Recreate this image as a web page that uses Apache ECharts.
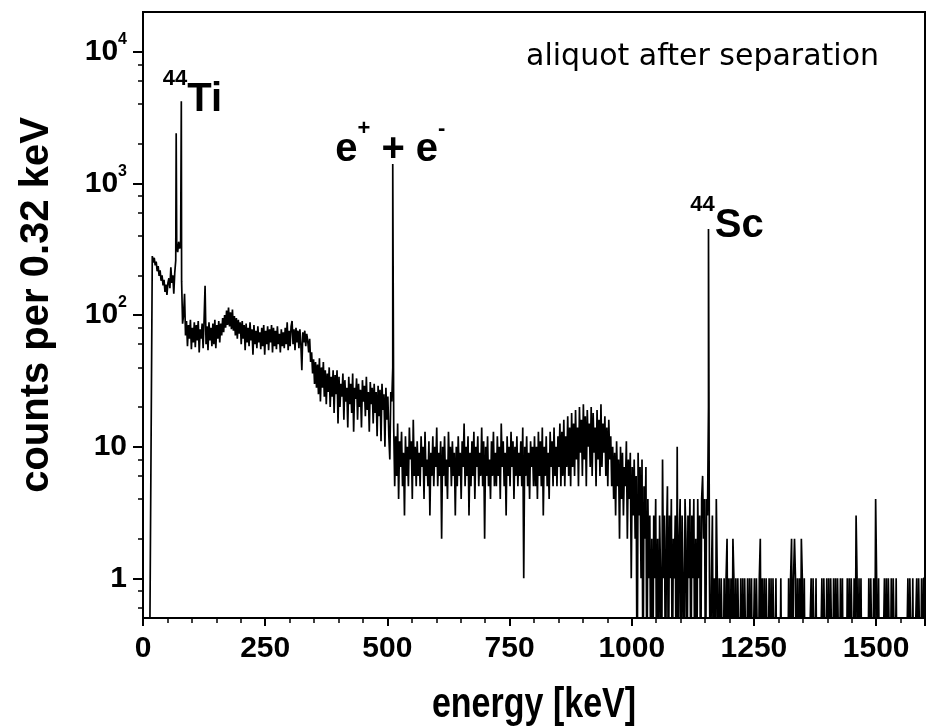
<!DOCTYPE html>
<html>
<head>
<meta charset="utf-8">
<script src="https://cdn.jsdelivr.net/npm/echarts@6/dist/echarts.min.js"></script>
<style>
html, body { margin: 0; padding: 0; background: #fff; }
#chart { width: 935px; height: 726px; }
</style>
</head>
<body>
<div id="chart"></div>
<script>
// spectrum, one value every 2 keV starting at 1 keV
const startKeV = 1
const stepKeV = 2
const counts = [
    0, 0, 0, 0, 0, 0, 0, 0, 0, 280, 250, 272, 238, 255, 215, 235, 198, 218, 182, 200, 168, 185, 150, 170, 142, 175, 190, 160, 230, 175, 200, 145, 210, 260, 330, 300, 360, 320, 350, 180,
    86, 100, 145, 70, 90, 58, 84, 66, 92, 55, 80, 62, 88, 57, 84, 64, 90, 52, 78, 66, 86, 56, 92, 167, 60, 82, 54, 88, 64, 80, 58, 86, 60, 92, 56, 84, 66, 90, 62, 86,
    70, 95, 74, 100, 80, 108, 84, 114, 82, 105, 78, 110, 76, 98, 70, 95, 66, 92, 72, 88, 60, 90, 66, 84, 54, 86, 62, 80, 58, 88, 64, 78, 50, 84, 60, 76, 56, 82, 62, 74,
    55, 80, 58, 84, 50, 76, 60, 82, 54, 78, 62, 84, 52, 80, 58, 76, 55, 82, 60, 72, 52, 78, 58, 74, 56, 80, 60, 88, 54, 76, 58, 82, 90, 60, 78, 54, 80, 62, 76, 56,
    78, 60, 38, 74, 62, 76, 58, 72, 64, 52, 66, 44, 52, 36, 46, 30, 44, 28, 42, 25, 47, 22, 40, 28, 44, 24, 38, 21, 36, 26, 40, 20, 34, 24, 38, 18, 35, 25, 38, 15,
    34, 20, 30, 24, 36, 16, 32, 22, 28, 14, 34, 21, 30, 18, 36, 13, 28, 23, 33, 16, 30, 20, 27, 14, 32, 22, 29, 17, 34, 19, 26, 13, 31, 21, 28, 15, 30, 18, 26, 12,
    29, 17, 27, 11, 30, 19, 25, 10, 28, 16, 24, 12, 8, 26, 22, 40, 14, 5, 12, 6, 15, 4, 11, 7, 13, 5, 9, 3, 12, 6, 10, 5, 14, 8, 11, 4, 16, 6, 10, 5,
    11, 6, 9, 5, 12, 7, 10, 4, 13, 6, 8, 5, 11, 3, 9, 6, 12, 5, 10, 7, 14, 5, 9, 6, 11, 2, 10, 6, 12, 5, 8, 4, 13, 7, 10, 5, 11, 6, 9, 3,
    10, 5, 12, 6, 9, 4, 11, 7, 15, 5, 10, 6, 12, 3, 9, 5, 11, 6, 13, 4, 10, 7, 12, 5, 9, 6, 14, 5, 11, 2, 10, 6, 12, 5, 8, 4, 11, 6, 13, 5,
    9, 5, 12, 6, 10, 4, 15, 7, 11, 5, 9, 3, 12, 6, 10, 5, 13, 7, 11, 4, 10, 6, 12, 5, 9, 6, 11, 5, 14, 1, 10, 6, 12, 5, 9, 4, 11, 7, 10, 5,
    12, 5, 10, 4, 13, 6, 11, 5, 14, 3, 10, 6, 12, 5, 9, 4, 13, 7, 11, 5, 14, 6, 10, 5, 12, 7, 15, 5, 13, 6, 16, 5, 12, 7, 17, 6, 14, 5, 18, 7,
    15, 6, 19, 8, 14, 5, 20, 9, 16, 6, 21, 8, 17, 5, 19, 10, 15, 7, 20, 6, 18, 9, 14, 5, 19, 8, 16, 6, 21, 7, 15, 9, 17, 6, 14, 5, 16, 8, 12, 5,
    10, 4, 9, 3, 11, 5, 8, 2, 10, 4, 9, 3, 7, 5, 11, 2, 8, 4, 9, 1, 7, 3, 8, 2, 6, 0, 9, 3, 7, 1, 8, 0, 5, 2, 7, 0, 4, 1, 3, 0,
    2, 0, 3, 1, 4, 0, 2, 0, 3, 1, 0, 8, 1, 3, 0, 2, 5, 0, 3, 1, 4, 0, 2, 1, 3, 0, 10, 0, 2, 4, 0, 3, 1, 0, 4, 2, 0, 3, 1, 4,
    0, 3, 1, 4, 0, 2, 0, 4, 1, 3, 0, 4, 6, 2, 4, 0, 4, 3, 20, 1, 0, 1, 3, 0, 1, 0, 4, 1, 0, 1, 0, 1, 1, 0, 1, 0, 1, 2, 0, 1,
    0, 1, 0, 2, 1, 0, 1, 0, 1, 1, 0, 1, 0, 1, 0, 1, 1, 0, 1, 0, 1, 0, 1, 0, 0, 1, 0, 1, 1, 0, 1, 2, 0, 1, 0, 1, 0, 1, 1, 0,
    1, 0, 1, 0, 1, 1, 0, 1, 0, 0, 0, 0, 1, 0, 0, 0, 0, 0, 0, 0, 1, 0, 1, 2, 0, 1, 2, 1, 0, 1, 0, 1, 0, 2, 1, 0, 1, 0, 0, 0,
    0, 0, 0, 1, 0, 1, 1, 0, 1, 0, 0, 0, 0, 0, 1, 0, 1, 1, 0, 1, 0, 1, 0, 1, 1, 0, 1, 0, 1, 0, 1, 1, 0, 1, 0, 1, 0, 0, 0, 0,
    1, 0, 1, 0, 1, 1, 0, 1, 0, 3, 1, 0, 1, 0, 1, 0, 0, 0, 0, 0, 0, 0, 1, 0, 1, 1, 0, 1, 0, 4, 1, 0, 1, 0, 0, 0, 0, 0, 1, 0,
    1, 0, 1, 1, 0, 1, 0, 1, 1, 0, 1, 0, 0, 0, 0, 0, 0, 0, 0, 0, 0, 0, 1, 0, 1, 1, 0, 1, 0, 0, 0, 1, 0, 1, 1, 0, 1, 0, 1, 1
]

// the narrow lines
const peakKeV = [67.9, 78.4, 511, 1157]
const peakCounts = [2400, 4200, 1400, 450]

// peak labels
const labelKeV = [101, 506, 1195]
const labelCounts = [4270, 1800, 471]
const labelText = ['{s|44}{b|Ti}', '{b|e}{s|+}{b| + e}{s|-}', '{s|44}{b|Sc}']

const majorTicks = [1, 10, 100, 1000, 10000]
const minorTicks = [0.6, 0.8, 2, 4, 6, 8, 20, 40, 60, 80, 200, 400, 600, 800, 2000, 4000, 6000, 8000]

// empty channels go below the bottom of the log axis
const EMPTY = 0.1
const font = 'Liberation Sans, Arial, sans-serif'

let spectrum = counts.map((c, i) => [startKeV + i * stepKeV, c || EMPTY])
peakKeV.forEach((e, i) => spectrum.push([e, peakCounts[i]]))
spectrum.sort((a, b) => a[0] - b[0])

const labelData = labelKeV.map((e, i) => ({
    value: [e, labelCounts[i]],
    label: { formatter: labelText[i] }
}))

const option = {
    animation: false,
    backgroundColor: '#fff',
    title: {
        text: 'aliquot after separation',
        right: 51,
        top: 37,
        textStyle: {
            fontFamily: 'DejaVu Sans, sans-serif',
            fontSize: 30,
            fontWeight: 'normal',
            color: '#000'
        }
    },
    graphic: [
        {
            // x axis title, squeezed like the narrow face of the original
            type: 'text',
            x: 534,
            y: 705,
            scaleX: 0.81,
            silent: true,
            style: {
                text: 'energy [keV]',
                fontFamily: font,
                fontSize: 42,
                fontWeight: 'bold',
                fill: '#000',
                textAlign: 'center',
                textVerticalAlign: 'middle'
            }
        }
    ],
    grid: {
        left: 143,
        right: 10,
        top: 12,
        bottom: 108,
        show: true,
        borderColor: '#000',
        borderWidth: 2,
        outerBoundsMode: 'none'
    },
    xAxis: {
        type: 'value',
        min: 0,
        max: 1600,
        interval: 250,
        axisLine: { lineStyle: { color: '#000', width: 2 } },
        axisTick: { length: 8, lineStyle: { width: 2 } },
        minorTick: { show: true, splitNumber: 5, length: 5, lineStyle: { color: '#000', width: 1.5 } },
        splitLine: { show: false },
        axisLabel: {
            showMaxLabel: false,
            margin: 16,
            fontFamily: font,
            fontSize: 30,
            fontWeight: 'bold',
            color: '#000',
            formatter: v => String(v)
        }
    },
    yAxis: [
        {
            type: 'log',
            logBase: 10,
            min: 0.5,
            max: 20000,
            name: 'counts per 0.32 keV',
            nameLocation: 'middle',
            nameGap: 86,
            nameTextStyle: { fontFamily: font, fontSize: 40, fontWeight: 'bold', color: '#000', padding: [0, 0, 0, 20] },
            axisLine: { show: true, lineStyle: { color: '#000', width: 2 } },
            axisTick: { customValues: majorTicks, length: 10, lineStyle: { width: 2 } },
            splitLine: { show: false },
            axisLabel: {
                customValues: majorTicks,
                margin: 16,
                color: '#000',
                fontFamily: font,
                fontSize: 30,
                fontWeight: 'bold',
                formatter: function (v) {
                    if (v < 100) return '{b|' + Math.round(v) + '}'
                    return '{b|10}{s|' + Math.round(Math.log10(v)) + '}'
                },
                rich: {
                    b: { fontFamily: font, fontSize: 30, fontWeight: 'bold', lineHeight: 40 },
                    s: { fontFamily: font, fontSize: 16, fontWeight: 'bold', lineHeight: 16, verticalAlign: 'top' }
                }
            }
        },
        {
            type: 'log',
            logBase: 10,
            min: 0.5,
            max: 20000,
            position: 'left',
            axisLine: { show: false },
            axisTick: { customValues: minorTicks, length: 5, lineStyle: { color: '#000', width: 1.5 } },
            axisLabel: { show: false },
            splitLine: { show: false }
        }
    ],
    series: [
        {
            type: 'line',
            data: spectrum,
            showSymbol: false,
            symbol: 'none',
            lineStyle: { color: '#000', width: 1.7 },
            clip: true,
            silent: true
        },
        {
            type: 'scatter',
            data: labelData,
            symbolSize: 0,
            silent: true,
            itemStyle: { opacity: 1 },
            label: {
                show: true,
                position: 'inside',
                color: '#000',
                opacity: 1,
                rich: {
                    b: { fontFamily: font, fontSize: 40, fontWeight: 'bold', color: '#000', lineHeight: 64 },
                    s: { fontFamily: font, fontSize: 22, fontWeight: 'bold', color: '#000', lineHeight: 22, verticalAlign: 'top' }
                }
            }
        }
    ]
}

const myChart = echarts.init(document.getElementById('chart'))
myChart.setOption(option)
</script>
</body>
</html>
